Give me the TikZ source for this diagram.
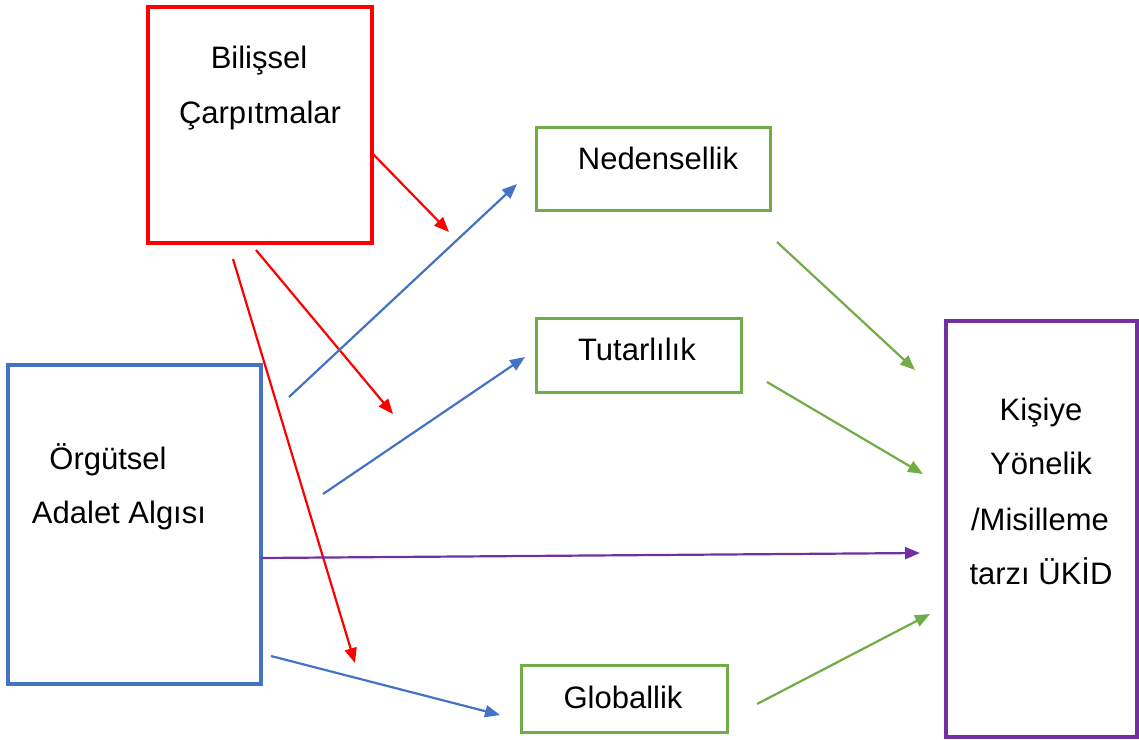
\documentclass[tikz,border=0pt]{standalone}
\usepackage{fontspec}
\setmainfont{Liberation Sans}
\usetikzlibrary{arrows.meta}
\definecolor{cred}{HTML}{FF0000}
\definecolor{cblue}{HTML}{4472C4}
\definecolor{cgreen}{HTML}{70AD47}
\definecolor{cpurple}{HTML}{7030A0}
\tikzset{
  box/.style={draw, line width=3.5pt, fill=white, inner sep=0pt},
  gbox/.style={box, line width=3pt},
  lbl/.style={inner sep=0pt, anchor=base, font=\fontsize{31}{37}\selectfont},
  arr/.style={line width=2.2pt, -{Triangle[length=15pt,width=12pt]}},
}
\begin{document}
\begin{tikzpicture}[x=1pt,y=-1pt]
\useasboundingbox (0,0) rectangle (1139,739);
% boxes
\node[box, draw=cred, minimum width=224pt, minimum height=236pt] (bc) at (260,125) {};
\node[gbox, draw=cgreen, minimum width=234pt, minimum height=83pt] (ned) at (653,168.5) {};
\node[gbox, draw=cgreen, minimum width=205pt, minimum height=74pt] (tut) at (638.5,355) {};
\node[box, draw=cblue, minimum width=253pt, minimum height=319pt] (oaa) at (134.5,524.5) {};
\node[gbox, draw=cgreen, minimum width=206pt, minimum height=67pt] (glo) at (624,698.5) {};
\node[box, draw=cpurple, minimum width=191pt, minimum height=416pt] (uk) at (1041.5,529) {};
% labels
\node[lbl] (t1) at (259,68) {Bilişsel};
\node[lbl] (t2) at (260,123) {Çarpıtmalar};
\node[lbl] (t3) at (658,169) {Nedensellik};
\node[lbl] (t4) at (637,360) {Tutarlılık};
\node[lbl] (t5) at (108,469) {Örgütsel};
\node[lbl] (t6) at (119,523) {Adalet Algısı};
\node[lbl] (t7) at (623,708) {Globallik};
\node[lbl] (t8) at (1041,420) {Kişiye};
\node[lbl] (t9) at (1041,474) {Yönelik};
\node[lbl] (t10) at (1040,530) {/Misilleme};
\node[lbl] (t11) at (1041,584) {tarzı ÜKİD};
% arrow endpoints
\coordinate (r1s) at (372,153); \coordinate (r1e) at (449,232);
\coordinate (r2s) at (256,250); \coordinate (r2e) at (393,414);
\coordinate (r3s) at (233,259); \coordinate (r3e) at (355,663);
\coordinate (b1s) at (289,397); \coordinate (b1e) at (517,184);
\coordinate (b2s) at (323,494); \coordinate (b2e) at (525,357);
\coordinate (b3s) at (271,656); \coordinate (b3e) at (500,715);
\coordinate (p1s) at (261,558); \coordinate (p1e) at (920,553);
\coordinate (g1s) at (777,242); \coordinate (g1e) at (915,370);
\coordinate (g2s) at (767,382); \coordinate (g2e) at (923,474);
\coordinate (g3s) at (757,704); \coordinate (g3e) at (930,614);
% arrows
\draw[arr, cred] (r1s) -- (r1e);
\draw[arr, cred] (r2s) -- (r2e);
\draw[arr, cred] (r3s) -- (r3e);
\draw[arr, cblue] (b1s) -- (b1e);
\draw[arr, cblue] (b2s) -- (b2e);
\draw[arr, cblue] (b3s) -- (b3e);
\draw[arr, cpurple] (p1s) -- (p1e);
\draw[arr, cgreen] (g1s) -- (g1e);
\draw[arr, cgreen] (g2s) -- (g2e);
\draw[arr, cgreen] (g3s) -- (g3e);
\end{tikzpicture}
\end{document}
